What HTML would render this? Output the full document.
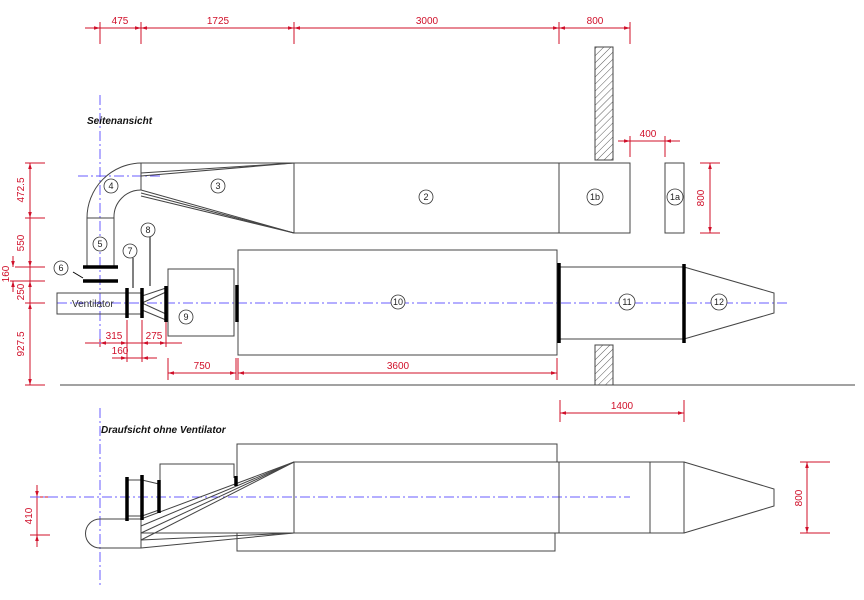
<!DOCTYPE html>
<html><head><meta charset="utf-8"><style>body{margin:0;background:#fff}svg{display:block}</style></head><body>
<svg width="864" height="600" viewBox="0 0 864 600" xmlns="http://www.w3.org/2000/svg" font-family="Liberation Sans, sans-serif">
<defs>
<pattern id="h" width="5" height="5" patternUnits="userSpaceOnUse" patternTransform="rotate(45)"><line x1="0" y1="0" x2="0" y2="5" stroke="#333" stroke-width="0.8"/></pattern>
<marker id="a" viewBox="0 0 10 10" refX="10" refY="5" markerWidth="6" markerHeight="6" orient="auto-start-reverse"><path d="M0,2L10,5L0,8z" fill="#d0102a"/></marker>
</defs>
<!-- dimensions red -->
<g stroke="#d0102a" stroke-width="1" fill="none">
<line x1="85" y1="28" x2="100" y2="28" marker-end="url(#a)"/>
<line x1="100" y1="28" x2="141" y2="28" marker-end="url(#a)"/>
<line x1="141" y1="28" x2="294" y2="28" marker-start="url(#a)" marker-end="url(#a)"/>
<line x1="294" y1="28" x2="559" y2="28" marker-start="url(#a)" marker-end="url(#a)"/>
<line x1="559" y1="28" x2="630" y2="28" marker-start="url(#a)" marker-end="url(#a)"/>
<line x1="100" y1="22" x2="100" y2="44"/><line x1="141" y1="22" x2="141" y2="44"/><line x1="294" y1="22" x2="294" y2="44"/><line x1="559" y1="22" x2="559" y2="44"/><line x1="630" y1="22" x2="630" y2="44"/>
<line x1="618" y1="141" x2="630" y2="141" marker-end="url(#a)"/><line x1="630" y1="141" x2="665" y2="141"/><line x1="680" y1="141" x2="665" y2="141" marker-end="url(#a)"/>
<line x1="630" y1="136" x2="630" y2="157"/><line x1="665" y1="136" x2="665" y2="157"/>
<line x1="700" y1="163" x2="720" y2="163"/><line x1="700" y1="233" x2="720" y2="233"/><line x1="710" y1="163" x2="710" y2="233" marker-start="url(#a)" marker-end="url(#a)"/>
<line x1="30" y1="163" x2="30" y2="218" marker-start="url(#a)" marker-end="url(#a)"/>
<line x1="30" y1="218" x2="30" y2="267" marker-end="url(#a)"/>
<line x1="30" y1="281" x2="30" y2="303" marker-start="url(#a)"/>
<line x1="30" y1="303" x2="30" y2="385" marker-start="url(#a)" marker-end="url(#a)"/>
<line x1="30" y1="267" x2="30" y2="281"/>
<line x1="25" y1="163" x2="45" y2="163"/><line x1="25" y1="218" x2="45" y2="218"/><line x1="15" y1="267" x2="45" y2="267"/><line x1="10" y1="281" x2="45" y2="281"/><line x1="25" y1="303" x2="45" y2="303"/><line x1="25" y1="385" x2="45" y2="385"/>
<line x1="13" y1="256" x2="13" y2="267" marker-end="url(#a)"/><line x1="13" y1="292" x2="13" y2="281" marker-end="url(#a)"/>
<line x1="85" y1="343" x2="100" y2="343"/>
<line x1="100" y1="343" x2="127" y2="343" marker-start="url(#a)" marker-end="url(#a)"/>
<line x1="127" y1="343" x2="142" y2="343"/>
<line x1="142" y1="343" x2="166" y2="343" marker-start="url(#a)" marker-end="url(#a)"/>
<line x1="166" y1="343" x2="182" y2="343"/>
<line x1="100" y1="330" x2="100" y2="347"/><line x1="127" y1="320" x2="127" y2="362"/><line x1="142" y1="320" x2="142" y2="362"/><line x1="166" y1="322" x2="166" y2="347"/>
<line x1="112" y1="358" x2="127" y2="358" marker-end="url(#a)"/><line x1="157" y1="358" x2="142" y2="358" marker-end="url(#a)"/><line x1="127" y1="358" x2="142" y2="358"/>
<line x1="168" y1="373" x2="236" y2="373" marker-start="url(#a)" marker-end="url(#a)"/>
<line x1="238" y1="373" x2="557" y2="373" marker-start="url(#a)" marker-end="url(#a)"/>
<line x1="168" y1="358" x2="168" y2="380"/><line x1="236" y1="358" x2="236" y2="380"/><line x1="238" y1="358" x2="238" y2="380"/><line x1="557" y1="358" x2="557" y2="380"/>
<line x1="560" y1="413" x2="684" y2="413" marker-start="url(#a)" marker-end="url(#a)"/><line x1="560" y1="400" x2="560" y2="422"/><line x1="684" y1="400" x2="684" y2="422"/>
<line x1="30" y1="497" x2="50" y2="497"/><line x1="30" y1="535" x2="50" y2="535"/>
<line x1="37" y1="485" x2="37" y2="497" marker-end="url(#a)"/><line x1="37" y1="497" x2="37" y2="535"/><line x1="37" y1="547" x2="37" y2="535" marker-end="url(#a)"/>
<line x1="800" y1="462" x2="830" y2="462"/><line x1="800" y1="533" x2="830" y2="533"/><line x1="807" y1="462" x2="807" y2="533" marker-start="url(#a)" marker-end="url(#a)"/>
</g>
<g fill="#d0102a" font-size="10" text-anchor="middle">
<text x="120" y="24">475</text><text x="218" y="24">1725</text><text x="427" y="24">3000</text><text x="595" y="24">800</text>
<text x="648" y="137">400</text>
<text x="114" y="339">315</text><text x="154" y="339">275</text><text x="120" y="354">160</text>
<text x="202" y="369">750</text><text x="398" y="369">3600</text><text x="622" y="409">1400</text>
<text transform="translate(704,198) rotate(-90)">800</text>
<text transform="translate(24,190) rotate(-90)">472.5</text>
<text transform="translate(24,243) rotate(-90)">550</text>
<text transform="translate(9,274) rotate(-90)">160</text>
<text transform="translate(24,292) rotate(-90)">250</text>
<text transform="translate(24,344) rotate(-90)">927.5</text>
<text transform="translate(32,516) rotate(-90)">410</text>
<text transform="translate(802,498) rotate(-90)">800</text>
</g>
<!-- center lines -->
<g stroke="#6a5cff" stroke-width="1" stroke-dasharray="10,3,2,3" fill="none">
<line x1="100" y1="95" x2="100" y2="345"/><line x1="78" y1="176" x2="160" y2="176"/>
<line x1="57" y1="303" x2="790" y2="303"/>
<line x1="100" y1="408" x2="100" y2="585"/><line x1="30" y1="497" x2="630" y2="497"/>
</g>
<!-- side view -->
<g stroke="#444" stroke-width="1" fill="none">
<path d="M87,267V218A55,55 0 0 1 141,163"/><path d="M114,267V218A27,27 0 0 1 141,190"/>
<line x1="87" y1="218" x2="114" y2="218"/>
<line x1="141" y1="163" x2="141" y2="190"/>
<line x1="141" y1="163" x2="294" y2="163"/>
<line x1="141" y1="173" x2="294" y2="163"/><line x1="141" y1="176" x2="294" y2="163"/>
<line x1="141" y1="190" x2="294" y2="233"/><line x1="141" y1="193" x2="294" y2="233"/><line x1="141" y1="196" x2="294" y2="233"/>
<rect x="294" y="163" width="265" height="70"/><rect x="559" y="163" width="71" height="70"/><rect x="665" y="163" width="19" height="70"/>
<rect x="57" y="293" width="70" height="21"/>
<line x1="127" y1="293" x2="142" y2="293"/><line x1="127" y1="314" x2="142" y2="314"/>
<path d="M142,296L166,288M142,310L166,320M142,303L166,292M142,303L166,314"/>
<rect x="168" y="269" width="66" height="67"/>
<rect x="238" y="250" width="319" height="105"/>
<rect x="560" y="267" width="124" height="72"/>
<path d="M684,267L774,293V313L684,339"/>
<line x1="60" y1="385" x2="855" y2="385"/>
<rect x="595" y="47" width="18" height="113" fill="url(#h)"/>
<rect x="595" y="345" width="18" height="40" fill="url(#h)"/>
</g>
<g stroke="#000" stroke-width="3.5">
<line x1="83" y1="267" x2="118" y2="267"/><line x1="83" y1="281" x2="118" y2="281"/>
<line x1="127" y1="288" x2="127" y2="318"/><line x1="142" y1="288" x2="142" y2="318"/>
<line x1="166" y1="286" x2="166" y2="322"/><line x1="237" y1="285" x2="237" y2="322"/>
<line x1="559" y1="263" x2="559" y2="343"/><line x1="684" y1="264" x2="684" y2="343"/>
</g>
<g stroke="#000" stroke-width="1"><line x1="73" y1="272" x2="83" y2="278"/><line x1="133" y1="258" x2="133" y2="288"/><line x1="150" y1="237" x2="150" y2="286"/></g>
<text x="72" y="307" font-size="10" fill="#333">Ventilator</text>
<g stroke="#333" fill="#fff" stroke-width="0.8">
<circle cx="111" cy="186" r="7"/><circle cx="218" cy="186" r="7"/><circle cx="426" cy="197" r="7"/><circle cx="595" cy="197" r="8"/><circle cx="675" cy="197" r="8"/>
<circle cx="100" cy="244" r="7"/><circle cx="130" cy="251" r="7"/><circle cx="148" cy="230" r="7"/><circle cx="61" cy="268" r="7"/><circle cx="186" cy="317" r="7"/>
<circle cx="398" cy="302" r="7"/><circle cx="627" cy="302" r="8"/><circle cx="719" cy="302" r="8"/>
</g>
<g font-size="9" text-anchor="middle" fill="#222">
<text x="111" y="189">4</text><text x="218" y="189">3</text><text x="426" y="200">2</text><text x="595" y="200">1b</text><text x="675" y="200">1a</text>
<text x="100" y="247">5</text><text x="130" y="254">7</text><text x="148" y="233">8</text><text x="61" y="271">6</text><text x="186" y="320">9</text>
<text x="398" y="305">10</text><text x="627" y="305">11</text><text x="719" y="305">12</text>
</g>
<g font-size="10" font-weight="bold" font-style="italic" fill="#111"><text x="87" y="124">Seitenansicht</text><text x="101" y="433">Draufsicht ohne Ventilator</text></g>
<!-- top view -->
<g stroke="#444" stroke-width="1" fill="none">
<path d="M141,548H100A14.5,14.5 0 0 1 100,519H141V548"/>
<path d="M127,480H142M127,516H142M142,480L159,484M142,516L159,510"/>
<path d="M160,480V464H234V478"/>
<path d="M237,476V444H557V462"/><path d="M237,533V551H555V533"/>
<line x1="141" y1="519" x2="294" y2="462"/><line x1="141" y1="526" x2="294" y2="462"/><line x1="141" y1="533" x2="294" y2="462"/><line x1="141" y1="540" x2="294" y2="462"/>
<line x1="141" y1="533" x2="294" y2="533"/><line x1="141" y1="540" x2="294" y2="533"/><line x1="141" y1="548" x2="294" y2="533"/>
<rect x="294" y="462" width="265" height="71"/><rect x="559" y="462" width="125" height="71"/><line x1="650" y1="462" x2="650" y2="533"/>
<path d="M684,462L774,489V506L684,533"/>
</g>
<g stroke="#000" stroke-width="3.5">
<line x1="127" y1="477" x2="127" y2="521"/><line x1="142" y1="475" x2="142" y2="520"/><line x1="159" y1="480" x2="159" y2="513"/><line x1="236" y1="476" x2="236" y2="486"/>
</g>
</svg>
</body></html>
